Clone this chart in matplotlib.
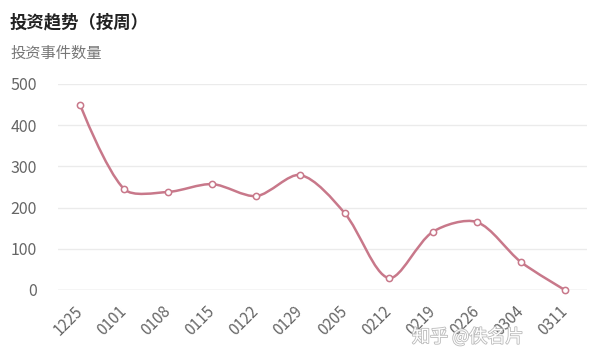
import matplotlib
matplotlib.use("Agg")
import matplotlib.pyplot as plt
import matplotlib.patheffects as pe
from matplotlib.path import Path
from matplotlib.patches import PathPatch
from matplotlib.transforms import ScaledTranslation
import numpy as np

plt.rcParams['font.family'] = ['Noto Sans CJK SC', 'DejaVu Sans']

weeks = ['1225', '0101', '0108', '0115', '0122', '0129', '0205',
         '0212', '0219', '0226', '0304', '0311']
counts = [450, 245, 238, 257, 228, 279, 187, 29, 141, 165, 68, 0]

line_color = '#c8788a'


def smooth_path(xs, ys, sx, sy, smooth=0.3):
    # echarts-like bezier smoothing, computed in pixel-ish space
    px = np.asarray(xs, float) * sx
    py = np.asarray(ys, float) * sy
    n = len(px)
    cps = []
    for i in range(n):
        if i == 0 or i == n - 1:
            cps.append(((px[i], py[i]), (px[i], py[i])))
            continue
        vx, vy = px[i + 1] - px[i - 1], py[i + 1] - py[i - 1]
        d0 = np.hypot(px[i] - px[i - 1], py[i] - py[i - 1])
        d1 = np.hypot(px[i + 1] - px[i], py[i + 1] - py[i])
        s = d0 + d1
        c0 = (px[i] - vx * smooth * d0 / s, py[i] - vy * smooth * d0 / s)
        c1 = (px[i] + vx * smooth * d1 / s, py[i] + vy * smooth * d1 / s)
        cps.append((c0, c1))
    verts = [(px[0], py[0])]
    codes = [Path.MOVETO]
    for i in range(1, n):
        verts += [cps[i - 1][1], cps[i][0], (px[i], py[i])]
        codes += [Path.CURVE4] * 3
    verts = [(x / sx, y / sy) for x, y in verts]
    return Path(verts, codes)


fig = plt.figure(figsize=(6, 3.61), dpi=100)
ax = fig.add_axes([58 / 600, 1 - 290 / 361, 529 / 600, 206 / 361])

x = np.arange(len(weeks))
path = smooth_path(x, counts, 44.0, 0.412)
ax.add_patch(PathPatch(path, facecolor='none', edgecolor=line_color,
                       linewidth=1.8, zorder=3, clip_on=False))
ax.plot(x, counts, linestyle='none', marker='o', markersize=4.5,
        markerfacecolor='white', markeredgecolor=line_color,
        markeredgewidth=1.1, zorder=4, clip_on=False)

ax.set_xlim(-0.5, len(weeks) - 0.5)
ax.set_ylim(0, 500)
ax.set_yticks([0, 100, 200, 300, 400, 500])
ax.set_xticks(x)
ax.set_xticklabels(weeks, rotation=45, ha='right', rotation_mode='anchor')
ax.tick_params(axis='both', length=0, colors='#666666')
ax.tick_params(axis='x', pad=9, labelsize=11)
ax.tick_params(axis='y', pad=15, labelsize=11.5)
shift = ScaledTranslation(-6 / 100, 0, fig.dpi_scale_trans)
for lbl in ax.get_xticklabels():
    lbl.set_transform(lbl.get_transform() + shift)
ax.grid(axis='y', color='#ebebeb', linewidth=1)
ax.set_axisbelow(True)
for sp in ax.spines.values():
    sp.set_visible(False)
ax.axhline(0, color='#dddddd', linewidth=1, zorder=1)

fig.text(10 / 600, 1 - 22 / 361, '投资趋势（按周）', fontsize=12.5,
         fontweight='bold', color='#222222', va='center')
fig.text(10 / 600, 1 - 53 / 361, '投资事件数量', fontsize=11,
         color='#777777', va='center')

# watermark
fig.text(412 / 600, 1 - 337 / 361, '知乎 @佚名片', fontsize=13,
         color='white', va='center', zorder=10,
         path_effects=[pe.withStroke(linewidth=1.2, foreground='#bbbbbb')])

fig.savefig('out.png', dpi=100)
